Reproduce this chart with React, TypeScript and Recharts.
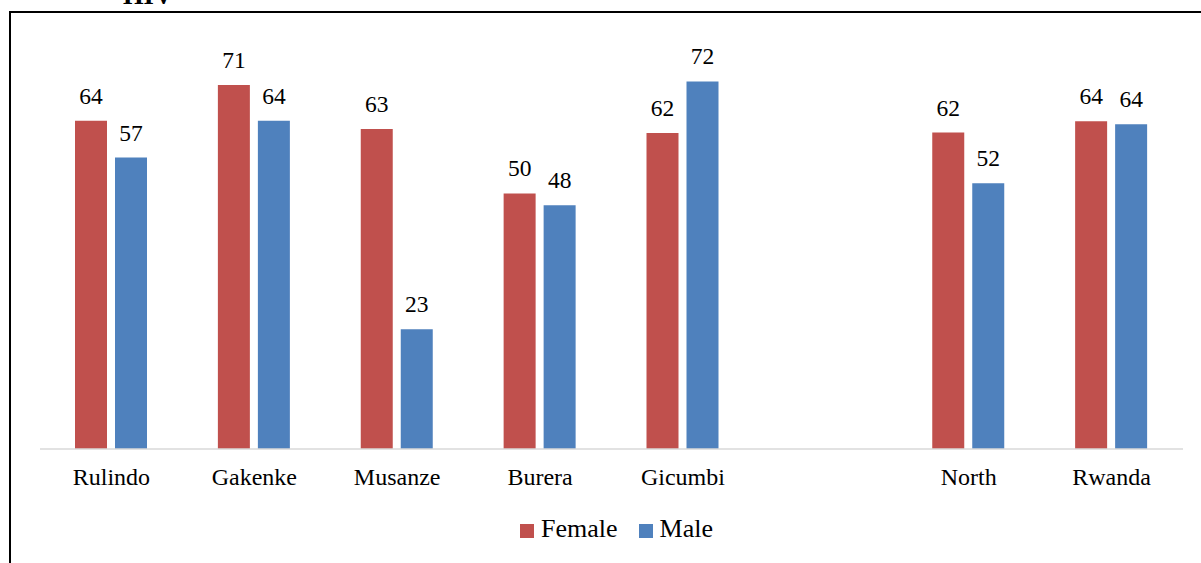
import React from "react";
import { BarChart, Bar, XAxis, YAxis, Legend } from "recharts";

const categories = ["Rulindo", "Gakenke", "Musanze", "Burera", "Gicumbi", "", "North", "Rwanda"];
const female: (number | null)[] = [64.2, 71.2, 62.6, 50.0, 61.8, null, 61.9, 64.1];
const male: (number | null)[] = [57.0, 64.2, 23.4, 47.7, 71.9, null, 52.0, 63.5];
const seriesNames = ["Female", "Male"];
const colors = ["#C0504D", "#4F81BD"];

const data = categories.map((c, i) => ({ name: c, Female: female[i], Male: male[i] }));

const FONT = '"Liberation Serif", "Times New Roman", serif';

const ValueLabel = (props: any) => {
  const { x, y, width, value } = props;
  if (value == null) return null;
  return (
    <text
      x={Number(x) + Number(width) / 2}
      y={Number(y) - 17}
      textAnchor="middle"
      fill="#000"
      fontSize={23.5}
      fontFamily="Liberation Serif"
      style={{ fontFamily: FONT }}
    >
      {Math.round(Number(value))}
    </text>
  );
};

const LegendContent = () => (
  <div style={{ display: "flex", alignItems: "center", height: 40, fontFamily: FONT, fontSize: 26, color: "#000" }}>
    {seriesNames.map((n, i) => (
      <div key={n} style={{ display: "flex", alignItems: "center", marginRight: i === 0 ? 21 : 0 }}>
        <span style={{ display: "inline-block", width: 14, height: 14, background: colors[i], marginRight: 7, marginTop: 3 }} />
        <span>{n}</span>
      </div>
    ))}
  </div>
);

export default function App() {
  return (
    <div style={{ position: "absolute", left: 0, top: 0, width: 1201, height: 563, overflow: "hidden", background: "#fff" }}>
      <svg width={1201} height={563} style={{ position: "absolute", left: 0, top: 0 }}>
        <text x={123} y={4} fontFamily={FONT} fontWeight="bold" fontSize={26.5} fill="#000">HIV</text>
        <line x1={10} y1={12} x2={1201} y2={12} stroke="#000" strokeWidth={2} />
        <line x1={10} y1={11} x2={10} y2={563} stroke="#000" strokeWidth={2} />
      </svg>
      <div style={{ position: "absolute", left: 0, top: 0 }}>
        <BarChart
          width={1201}
          height={563}
          data={data}
          margin={{ top: 40, right: 18, left: 40, bottom: 14 }}
          barSize={32}
          barGap={8}
        >
          <XAxis
            dataKey="name"
            height={60}
            tickLine={false}
            tickSize={0}
            tickMargin={19}
            axisLine={{ stroke: "#d9d9d9", strokeWidth: 1.5 }}
            tick={{ fill: "#000", fontSize: 24, fontFamily: FONT }}
            interval={0}
          />
          <YAxis hide domain={[0, 80]} />
          <Legend
            verticalAlign="bottom"
            height={40}
            content={<LegendContent />}
            wrapperStyle={{ left: 520, top: 509, width: 240, height: 40 }}
          />
          <Bar dataKey="Female" fill={colors[0]} isAnimationActive={false} label={ValueLabel} />
          <Bar dataKey="Male" fill={colors[1]} isAnimationActive={false} label={ValueLabel} />
        </BarChart>
      </div>
    </div>
  );
}
